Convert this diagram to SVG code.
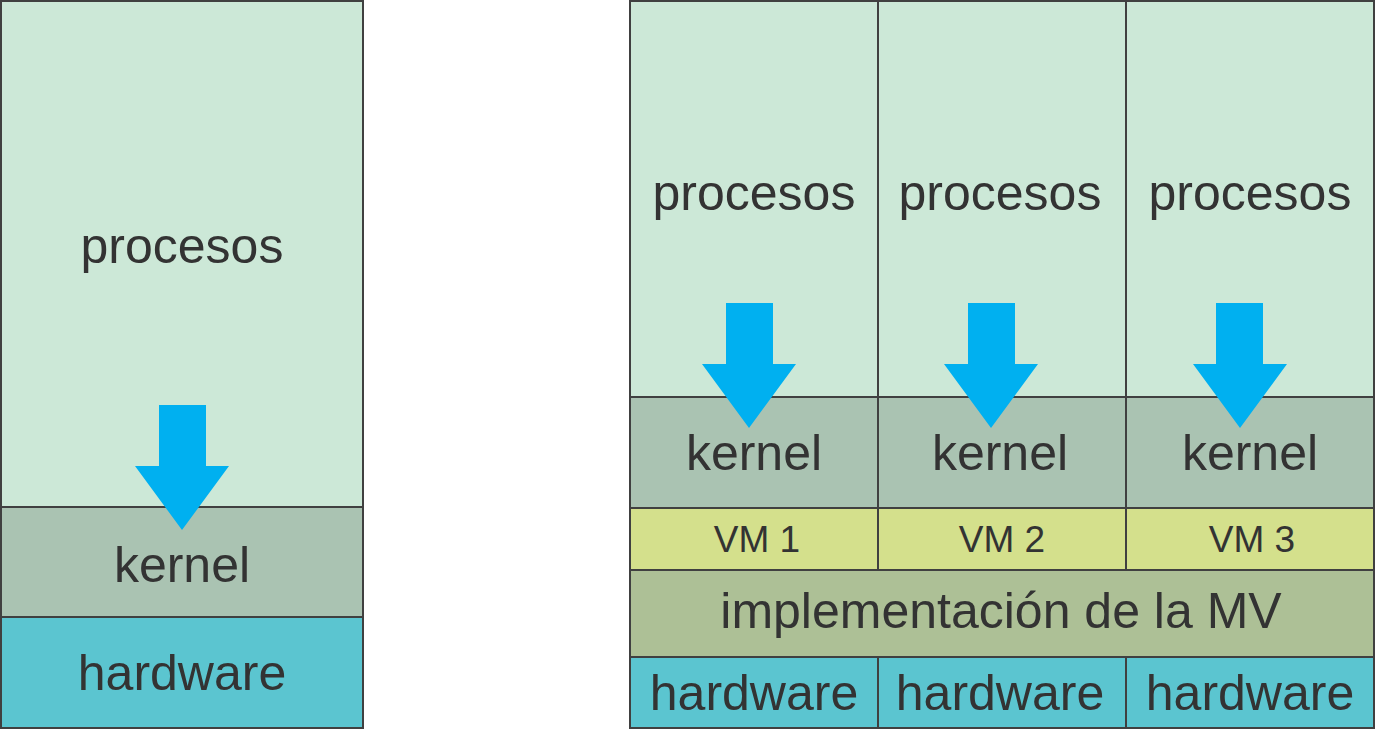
<svg xmlns="http://www.w3.org/2000/svg" width="1377" height="730" viewBox="0 0 1377 730">
<style>
rect{stroke:#404040;stroke-width:2}
.p{fill:#cce8d7}.k{fill:#aac3b2}.h{fill:#5bc5d0}.vm{fill:#d4e08c}.mv{fill:#adc096}
text{font-family:"Liberation Sans",Arial,sans-serif;fill:#333333;text-anchor:middle}
.t{font-size:50px}.s{font-size:37px}
.a{fill:#00b0f0}
</style>
<rect width="1377" height="730" fill="#ffffff" style="stroke:none"/>
<g id="left">
<g id="l-procesos"><rect class="p" x="1" y="1" width="362" height="506"/><text class="t" x="182" y="263">procesos</text></g>
<g id="l-kernel"><rect class="k" x="1" y="507" width="362" height="110"/><text class="t" x="182" y="582">kernel</text></g>
<g id="l-hardware"><rect class="h" x="1" y="617" width="362" height="111"/><text class="t" x="182" y="690">hardware</text></g>
</g>
<g id="right">
<g id="r-procesos1"><rect class="p" x="630" y="1" width="248" height="396"/><text class="t" x="754" y="210">procesos</text></g>
<g id="r-procesos2"><rect class="p" x="878" y="1" width="248" height="396"/><text class="t" x="1000" y="210">procesos</text></g>
<g id="r-procesos3"><rect class="p" x="1126" y="1" width="248" height="396"/><text class="t" x="1250" y="210">procesos</text></g>
<g id="r-kernel1"><rect class="k" x="630" y="397" width="248" height="111"/><text class="t" x="754" y="470">kernel</text></g>
<g id="r-kernel2"><rect class="k" x="878" y="397" width="248" height="111"/><text class="t" x="1000" y="470">kernel</text></g>
<g id="r-kernel3"><rect class="k" x="1126" y="397" width="248" height="111"/><text class="t" x="1250" y="470">kernel</text></g>
<g id="vm1"><rect class="vm" x="630" y="508" width="248" height="62"/><text class="s" x="757" y="552">VM 1</text></g>
<g id="vm2"><rect class="vm" x="878" y="508" width="248" height="62"/><text class="s" x="1002" y="552">VM 2</text></g>
<g id="vm3"><rect class="vm" x="1126" y="508" width="248" height="62"/><text class="s" x="1252" y="552">VM 3</text></g>
<g id="impl"><rect class="mv" x="630" y="570" width="744" height="87"/><text class="t" x="1001" y="628">implementación de la MV</text></g>
<g id="r-hardware1"><rect class="h" x="630" y="657" width="248" height="71"/><text class="t" x="754" y="710">hardware</text></g>
<g id="r-hardware2"><rect class="h" x="878" y="657" width="248" height="71"/><text class="t" x="1000" y="710">hardware</text></g>
<g id="r-hardware3"><rect class="h" x="1126" y="657" width="248" height="71"/><text class="t" x="1250" y="710">hardware</text></g>
</g>
<g id="connectors">
<polygon class="a" points="159,405 206,405 206,466 229,466 182,530 135,466 159,466"/>
<polygon class="a" points="726,303 773,303 773,364 796,364 749,428 702,364 726,364"/>
<polygon class="a" points="968,303 1015,303 1015,364 1038,364 991,428 944,364 968,364"/>
<polygon class="a" points="1216,303 1263,303 1263,364 1287,364 1240,428 1193,364 1216,364"/>
</g>
</svg>
